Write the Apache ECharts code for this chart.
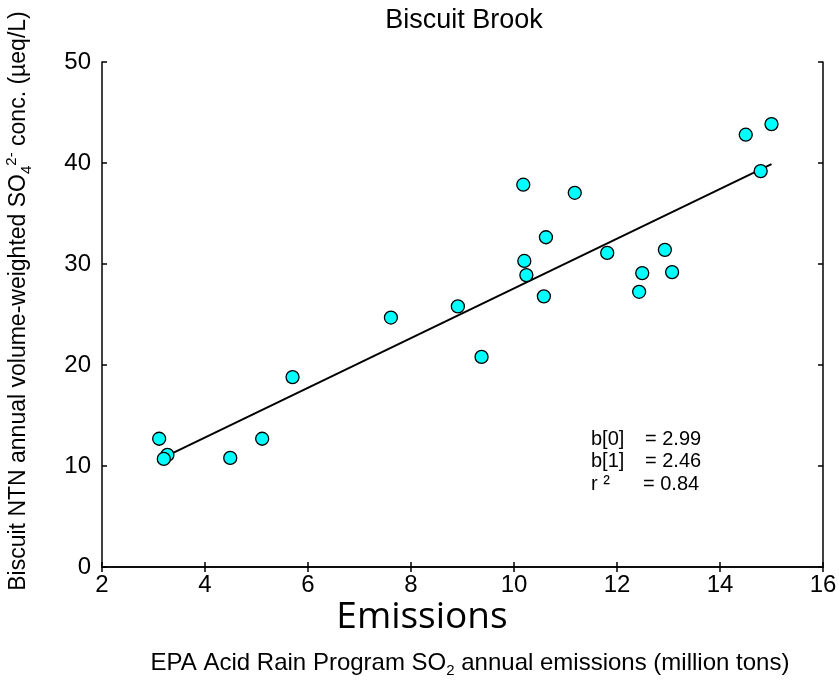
<!DOCTYPE html>
<html>
<head>
<meta charset="utf-8">
<script src="https://cdn.jsdelivr.net/npm/echarts@6/dist/echarts.min.js"></script>
<style>html,body{margin:0;padding:0;background:#fff}#c{width:839px;height:680px}</style>
</head>
<body>
<div id="c"></div>
<script>
var emissions = [3.11, 3.27, 3.20, 4.49, 5.11, 5.70, 7.61, 8.91, 9.37, 10.18, 11.18, 10.62, 10.20, 10.24, 10.58, 11.81, 12.93, 12.49, 13.07, 12.43, 14.79, 14.50, 15.00];
var sulfate   = [12.7, 11.1, 10.7, 10.8, 12.7, 18.8, 24.7, 25.8, 20.8, 37.85, 37.05, 32.65, 30.3, 28.9, 26.8, 31.1, 31.4, 29.1, 29.2, 27.25, 39.2, 42.8, 43.85];
var b0 = 2.99, b1 = 2.46, r2 = 0.84;
var fitRange = [3.2, 15.0];
var xTicks = [2, 4, 6, 8, 10, 12, 14, 16];
var yTicks = [0, 10, 20, 30, 40, 50];

var pts = emissions.map(function (x, i) { return [x, sulfate[i]]; });
var fit = fitRange.map(function (x) { return [x, b0 + b1 * x]; });

var F = '"Liberation Sans", Arial, sans-serif';
var chart = echarts.init(document.getElementById('c'));
var axisLine = { show: true, lineStyle: { color: '#000', width: 1.5 } };
var tick = { show: true, inside: true, length: 5, lineStyle: { color: '#000', width: 1.5 } };
var subRich = { fontFamily: F, fontSize: 15, verticalAlign: 'bottom', lineHeight: 30, padding: [12, 0, 0, 0] };
var supRich = { fontFamily: F, fontSize: 15, verticalAlign: 'top', lineHeight: 30, padding: [0, 0, 12, 0] };
chart.setOption({
  animation: false,
  backgroundColor: '#fff',
  grid: { left: 102, top: 62, right: 16, bottom: 113, containLabel: false, outerBoundsMode: 'none' },
  title: [
    { text: 'Biscuit Brook', left: 459, top: 2, textAlign: 'center',
      textStyle: { fontFamily: F, fontSize: 27, fontWeight: 'normal', color: '#000' } },
    { text: 'Emissions', left: 417, top: 594, textAlign: 'center',
      textStyle: { fontFamily: '"Open Sans", sans-serif', fontSize: 37, fontWeight: 'normal', color: '#000' } }
  ],
  xAxis: [
    { type: 'value', min: 2, max: 16, interval: 2, position: 'bottom',
      axisLine: axisLine, axisTick: tick, splitLine: { show: false },
      axisLabel: { fontFamily: F, fontSize: 24, color: '#000', margin: 6 } },
    { type: 'value', min: 2, max: 16, interval: 2, position: 'top',
      axisLine: axisLine, axisTick: tick, splitLine: { show: false }, axisLabel: { show: false } }
  ],
  yAxis: [
    { type: 'value', min: 0, max: 50, interval: 10, position: 'left',
      axisLine: axisLine, axisTick: tick, splitLine: { show: false },
      axisLabel: { fontFamily: F, fontSize: 24, color: '#000', margin: 11 } },
    { type: 'value', min: 0, max: 50, interval: 10, position: 'right',
      axisLine: axisLine, axisTick: tick, splitLine: { show: false }, axisLabel: { show: false } }
  ],
  series: [
    { type: 'line', data: fit, showSymbol: false, symbol: 'none',
      lineStyle: { color: '#000', width: 2 }, z: 2, silent: true },
    { type: 'scatter', data: pts, symbol: 'circle', symbolSize: 13,
      itemStyle: { color: '#00FFFF', borderColor: '#000', borderWidth: 1.3, opacity: 1 }, z: 3 }
  ],
  graphic: [
    { type: 'text', x: 19, y: 301, rotation: Math.PI / 2,
      style: { text: 'Biscuit NTN annual volume-weighted SO{sub|4}{sup|2-} conc. (\u00b5eq/L)',
        font: '23px ' + F, fill: '#000', align: 'center', verticalAlign: 'middle', lineHeight: 30,
        rich: { sub: subRich, sup: supRich } } },
    { type: 'text', x: 470, y: 663,
      style: { text: 'EPA Acid Rain Program SO{sub|2} annual emissions (million tons)',
        font: '24px ' + F, fill: '#000', align: 'center', verticalAlign: 'middle', lineHeight: 30,
        rich: { sub: subRich } } },
    { type: 'text', left: 591, top: 429, style: { text: 'b[0]', font: '20px ' + F, fill: '#000' } },
    { type: 'text', left: 645, top: 429, style: { text: '= ' + b0.toFixed(2), font: '20px ' + F, fill: '#000' } },
    { type: 'text', left: 591, top: 451, style: { text: 'b[1]', font: '20px ' + F, fill: '#000' } },
    { type: 'text', left: 645, top: 451, style: { text: '= ' + b1.toFixed(2), font: '20px ' + F, fill: '#000' } },
    { type: 'text', left: 591, top: 474, style: { text: 'r \u00b2', font: '20px ' + F, fill: '#000' } },
    { type: 'text', left: 643, top: 474, style: { text: '= ' + r2.toFixed(2), font: '20px ' + F, fill: '#000' } }
  ]
});
</script>
</body>
</html>
